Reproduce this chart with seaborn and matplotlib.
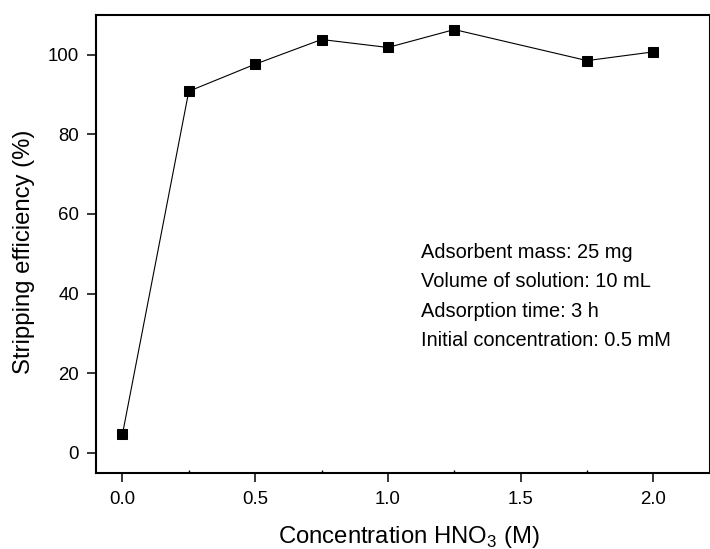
import pandas as pd
import seaborn as sns
import matplotlib.pyplot as plt

# data
conc = [0.0, 0.25, 0.5, 0.75, 1.0, 1.25, 1.75, 2.0]
efficiency = [4.6, 90.8, 97.6, 103.8, 101.8, 106.3, 98.5, 100.7]
notes = ['Adsorbent mass: 25 mg', 'Volume of solution: 10 mL',
         'Adsorption time: 3 h', 'Initial concentration: 0.5 mM']

df = pd.DataFrame({'conc': conc, 'eff': efficiency})

sns.set_style('ticks')
plt.rcParams['font.family'] = ['Liberation Sans', 'DejaVu Sans']
plt.rcParams['mathtext.fontset'] = 'custom'
plt.rcParams['mathtext.rm'] = 'Liberation Sans'
plt.rcParams['text.color'] = 'black'
plt.rcParams['axes.labelcolor'] = 'black'

fig = plt.figure(figsize=(7.1, 5.49), dpi=100)
ax = fig.add_axes([0.135, 0.139, 0.865, 0.834])

sns.lineplot(data=df, x='conc', y='eff', ax=ax, color='black', linewidth=0.8,
             marker='s', markersize=7.5, markeredgecolor='black', markerfacecolor='black')

ax.set_xlim(-0.1, 2.213)
ax.set_ylim(-5, 110)
ax.set_xticks([0.0, 0.5, 1.0, 1.5, 2.0])
ax.set_xticklabels(['0.0', '0.5', '1.0', '1.5', '2.0'])
ax.set_yticks([0, 20, 40, 60, 80, 100])
ax.set_xticks([0.25, 0.75, 1.25, 1.75], minor=True)
ax.tick_params(axis='both', which='major', direction='out', length=6.5, width=1.1,
               labelsize=13.4, color='black', labelcolor='black')
ax.tick_params(axis='x', which='major', pad=7)
ax.tick_params(axis='y', which='major', pad=5.5)
ax.tick_params(axis='x', which='minor', direction='in', length=2.5, width=1.0, color='black')
for s in ax.spines.values():
    s.set_visible(True)
    s.set_linewidth(1.5)
    s.set_color('black')

ax.set_xlabel(r'Concentration HNO$_\mathregular{3}$ (M)', fontsize=17.2, color='black')
ax.set_ylabel('Stripping efficiency (%)', fontsize=17.2, color='black')
ax.xaxis.set_label_coords(0.509, -0.153)
ax.xaxis.label.set_va('baseline')
ax.yaxis.set_label_coords(-0.108, 0.483)
ax.yaxis.label.set_va('baseline')

for i, t in enumerate(notes):
    ax.text(0.529, 0.469 - i * 0.064, t, transform=ax.transAxes, fontsize=14.4,
            va='baseline', ha='left', color='black')

fig.savefig('out.png', dpi=100)
